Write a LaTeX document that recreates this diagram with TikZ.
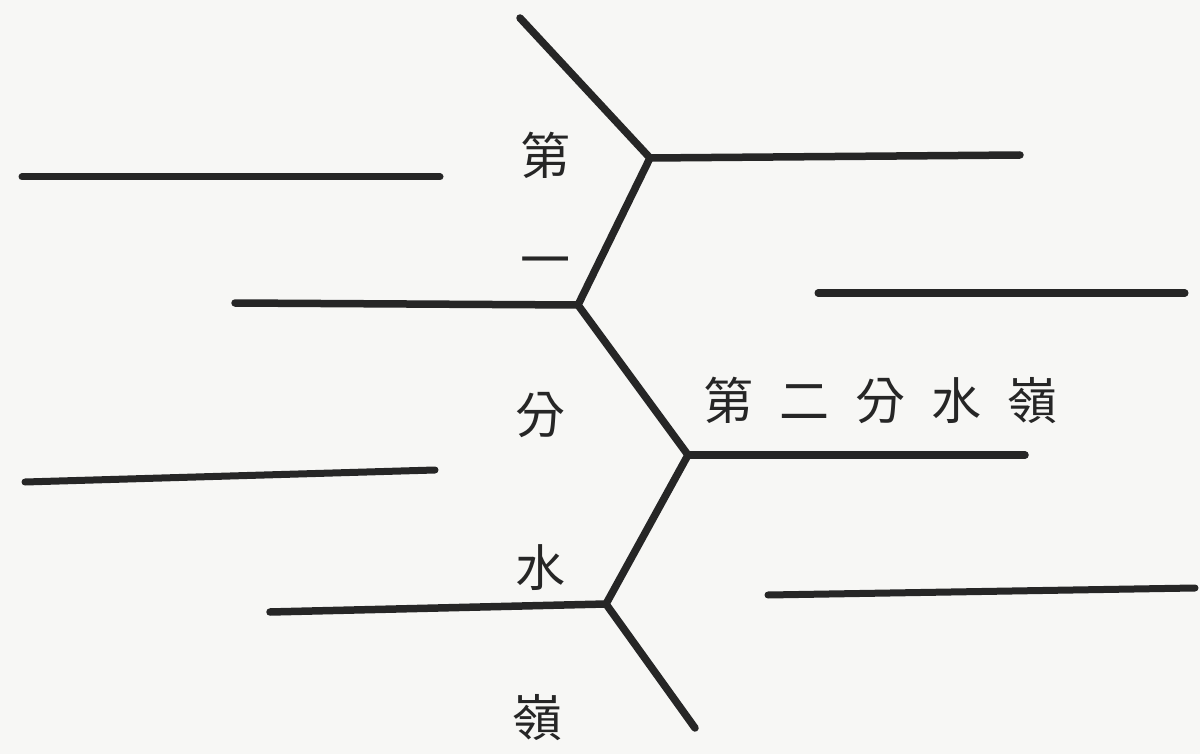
\documentclass[tikz,border=0pt]{standalone}
\usepackage{fontspec}
\newfontfamily\cjk{Noto Sans CJK TC}
\definecolor{ink}{HTML}{262626}
\definecolor{paper}{HTML}{F7F7F5}
\begin{document}
\begin{tikzpicture}[x=1pt,y=-1pt,
  ridge/.style={draw=ink,line width=7.5pt,line cap=round},
  river/.style={draw=ink,line width=7pt,line cap=round},
  lbl/.style={font=\cjk\fontsize{50}{50}\selectfont,text=ink,inner sep=0pt}]
\fill[paper] (0,0) rectangle (1200,754);
\useasboundingbox (0,0) rectangle (1200,754);
% ridge junctions
\coordinate (top) at (520,18);
\coordinate (j1) at (650,158);
\coordinate (j2) at (578,305);
\coordinate (j3) at (688,455);
\coordinate (j4) at (606,604);
\coordinate (bot) at (695,728);
% branch ends
\coordinate (e1) at (1020,155);
\coordinate (e2) at (235,303);
\coordinate (e3) at (1025,455);
\coordinate (e4) at (270,612);
\draw[ridge] (top) -- (j1) -- (j2) -- (j3) -- (j4) -- (bot);
\draw[ridge] (j1) -- (e1);
\draw[ridge] (j2) -- (e2);
\draw[ridge] (j3) -- (e3);
\draw[ridge] (j4) -- (e4);
% separate rivers
\coordinate (r1a) at (22,177);  \coordinate (r1b) at (440,177);
\coordinate (r2a) at (818,293); \coordinate (r2b) at (1185,293);
\coordinate (r3a) at (25,482);  \coordinate (r3b) at (435,470);
\coordinate (r4a) at (768,595); \coordinate (r4b) at (1195,588);
\draw[river] (r1a) -- (r1b);
\draw[river] (r2a) -- (r2b);
\draw[river] (r3a) -- (r3b);
\draw[river] (r4a) -- (r4b);
% labels
\node[lbl] (c1) at (545,155) {第};
\node[lbl] (c2) at (545,268) {一};
\node[lbl] (c3) at (540,415) {分};
\node[lbl] (c4) at (540,568) {水};
\node[lbl] (c5) at (537,718) {嶺};
\node[lbl,anchor=west] (second) at (703,400) {第\hspace{26pt}二\hspace{26pt}分\hspace{26pt}水\hspace{26pt}嶺};
\end{tikzpicture}
\end{document}
